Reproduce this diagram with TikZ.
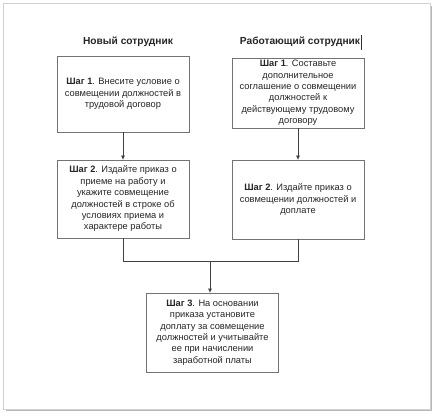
\documentclass[tikz,border=0pt]{standalone}
\usepackage{fontspec}
\setmainfont{Liberation Sans}
\usetikzlibrary{arrows.meta}
\begin{document}
\begin{tikzpicture}[x=1pt,y=-1pt,
  box/.style={draw=black!55, line width=0.8pt, fill=white, minimum width=132pt, align=center, inner sep=0pt, text=black!85, font=\fontsize{9.3}{11.4}\selectfont},
  head/.style={font=\fontsize{10.2}{12}\selectfont\bfseries, text=black!85},
  conn/.style={draw=black!75, line width=0.7pt},
  arr/.style={conn, -{Triangle[length=4pt,width=3.5pt]}}]
\useasboundingbox (0,0) rectangle (434,416);
\fill[black!28] (6,6) rectangle (432,411);
\filldraw[fill=white, draw=black!18, line width=0.8pt] (3,3) rectangle (430,409);
% headings
\node[head] (h1) at (128,42) {Новый сотрудник};
\node[head] (h2) at (300,42) {Работающий сотрудник};
\draw[black!80, line width=0.6pt] (361,35) -- (361,50);
% boxes
\node[box, minimum height=76pt] (L1) at (123,94) {\textbf{Шаг 1}. Внесите условие о\\совмещении должностей в\\трудовой договор};
\node[box, minimum height=70pt] (R1) at (298,93) {\textbf{Шаг 1}. Составьте\\дополнительное\\соглашение о совмещении\\должностей к\\действующему трудовому\\договору};
\node[box, minimum height=78pt] (L2) at (123,199) {\textbf{Шаг 2}. Издайте приказ о\\приеме на работу и\\укажите совмещение\\должностей в строке об\\условиях приема и\\характере работы};
\node[box, minimum height=79pt] (R2) at (298,199.5) {\textbf{Шаг 2}. Издайте приказ о\\совмещении должностей и\\доплате};
\node[box, minimum height=79pt] (B3) at (212.5,332.5) {\textbf{Шаг 3}. На основании\\приказа установите\\доплату за совмещение\\должностей и учитывайте\\ее при начислении\\заработной платы};
% connectors
\draw[arr] (L1.south) -- (L2.north);
\draw[arr] (R1.south) -- (R2.north);
\coordinate (j) at (210,261);
\draw[conn] (L2.south) -- (L2.south |- j) -- (R2.south |- j) -- (R2.south);
\draw[arr] (j) -- (j |- B3.north);
\end{tikzpicture}
\end{document}
